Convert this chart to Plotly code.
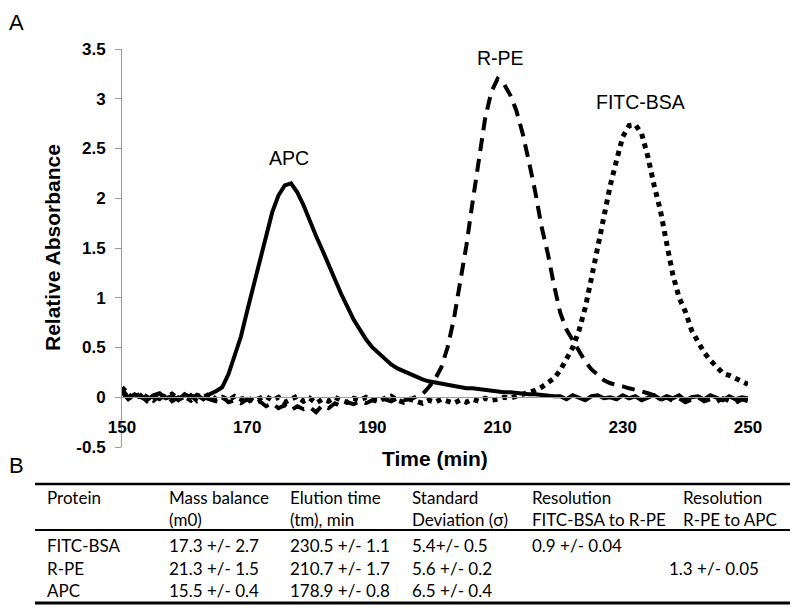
import plotly.graph_objects as go

# ---------------- data ----------------
time_min = list(range(150, 251))

apc = [0.05, -0.02, 0.03, 0.0, -0.03, 0.02, 0.04, -0.01, 0.01, -0.03, 0.03, 0.0, 0.02, -0.02, 0.03, 0.06,
       0.1, 0.23, 0.41, 0.61, 0.87, 1.12, 1.38, 1.64, 1.86, 2.03, 2.13, 2.15, 2.06, 1.93, 1.77, 1.62, 1.48,
       1.33, 1.18, 1.04, 0.91, 0.78, 0.68, 0.58, 0.5, 0.44, 0.38, 0.33, 0.29, 0.26, 0.23, 0.2, 0.18, 0.16,
       0.15, 0.13, 0.12, 0.11, 0.1, 0.09, 0.09, 0.08, 0.07, 0.07, 0.06, 0.05, 0.05, 0.04, 0.04, 0.03, 0.03,
       0.02, 0.02, 0.01,
       0.01, -0.02, 0.02, 0.0, -0.03, 0.01, 0.02, -0.01, 0.0, -0.02, 0.02, -0.01, 0.01, -0.03, 0.0, 0.02,
       -0.02, 0.01, -0.01, 0.02, -0.03, 0.0, 0.01, -0.02, 0.02, -0.01, -0.03, 0.01, -0.02, 0.0, -0.01]

rpe = [0.08, 0.0, -0.03, 0.02, -0.04, 0.01, -0.02, 0.03, -0.04, 0.0, -0.03, 0.02, -0.04, 0.0, -0.02, -0.04,
       0.01, -0.05, -0.03, -0.06, -0.02, -0.07, -0.04, -0.09, -0.06, -0.11, -0.08, -0.13, -0.09, -0.12, -0.1,
       -0.15, -0.08, -0.11, -0.06, -0.09, -0.05, -0.07, -0.04, -0.06, -0.03, -0.05, -0.02, -0.04, -0.01, -0.03,
       -0.02, 0.0, 0.03,
       0.1, 0.18, 0.3, 0.5, 0.78, 1.13, 1.52, 1.96, 2.4, 2.8, 3.07, 3.2, 3.15, 3.04, 2.88, 2.65, 2.37, 2.07,
       1.72, 1.45, 1.13, 0.85, 0.68, 0.57, 0.47, 0.36, 0.28, 0.22, 0.17, 0.14, 0.13, 0.11, 0.09, 0.08, 0.06,
       0.04, 0.02,
       -0.03, 0.0, -0.04, -0.01, -0.05, -0.02, 0.0, -0.04, -0.02, -0.05, -0.01, -0.04, -0.06, -0.02, -0.04]

fitc = [0.1, 0.03, -0.02, 0.04, 0.0, -0.03, 0.02, 0.0, 0.03, -0.02, 0.01, -0.03, 0.02, 0.0, 0.03, -0.02,
        0.0, -0.03, 0.01, -0.02, 0.0, -0.04, -0.01, 0.01, -0.03, 0.0, -0.05, -0.02, 0.01, -0.04, -0.01, -0.06,
        -0.02, -0.04, 0.0, -0.03, -0.05, -0.01, -0.03, 0.0, -0.02, -0.04, -0.01, 0.01, -0.03, -0.05, -0.02,
        -0.04, -0.06, -0.03, -0.05, -0.02, -0.04, -0.06, -0.03, -0.05, -0.02, -0.04, -0.01, -0.03, -0.02, 0.0,
        -0.01, 0.01, 0.02,
        0.05, 0.07, 0.1, 0.14, 0.19, 0.27, 0.38, 0.5, 0.67, 0.9, 1.2, 1.52, 1.86, 2.13, 2.38, 2.62, 2.73, 2.74,
        2.65, 2.42, 2.13, 1.88, 1.55, 1.23, 1.0, 0.86, 0.67, 0.55, 0.45, 0.37, 0.3, 0.24, 0.22, 0.19, 0.15, 0.13]

x_ticks = [150, 170, 190, 210, 230, 250]
y_ticks = [-0.5, 0, 0.5, 1, 1.5, 2, 2.5, 3, 3.5]
y_tick_labels = ["-0.5", "0", "0.5", "1", "1.5", "2", "2.5", "3", "3.5"]

# table (panel B)
header_line1 = ["Protein", "Mass balance", "Elution time", "Standard", "Resolution", "Resolution"]
header_line2 = ["", "(m0)", "(tm), min", "Deviation (σ)", "FITC-BSA to R-PE", "R-PE to APC"]
proteins = ["FITC-BSA", "R-PE", "APC"]
mass_balance = ["17.3 +/- 2.7", "21.3 +/- 1.5", "15.5 +/- 0.4"]
elution_time = ["230.5 +/- 1.1", "210.7 +/- 1.7", "178.9 +/- 0.8"]
std_dev = ["5.4+/- 0.5", "5.6 +/- 0.2", "6.5 +/- 0.4"]
res_fitc_rpe = ["0.9 +/- 0.04", "", ""]
res_rpe_apc = ["", "1.3 +/- 0.05", ""]

# ---------------- layout geometry (pixels) ----------------
W, H = 799, 613
L, R, T, B = 122, 51, 49, 166
PW, PH = W - L - R, H - T - B


def px(x):
    return (x - L) / PW


def py(y):
    return (H - B - y) / PH


ARIAL = "Liberation Sans, Arial, sans-serif"
CAL = "Lato, Carlito, Calibri, sans-serif"
GRAY = "#9a9a9a"

fig = go.Figure()
fig.add_trace(go.Scatter(x=time_min, y=apc, mode="lines", name="APC",
                         line=dict(color="black", width=4)))
fig.add_trace(go.Scatter(x=time_min, y=rpe, mode="lines", name="R-PE",
                         line=dict(color="black", width=4, dash="13px,8px")))
fig.add_trace(go.Scatter(x=time_min, y=fitc, mode="lines", name="FITC-BSA",
                         line=dict(color="black", width=5, dash="5px,5px")))

fig.update_layout(
    width=W, height=H,
    margin=dict(l=L, r=R, t=T, b=B, pad=0),
    paper_bgcolor="white", plot_bgcolor="white",
    showlegend=False,
    font=dict(family=ARIAL, color="black"),
    xaxis=dict(range=[150, 250], tickvals=x_ticks, ticktext=[str(v) for v in x_ticks],
               anchor="free", position=0.125, showline=True, linecolor=GRAY, linewidth=1,
               ticks="", showgrid=False, zeroline=False,
               tickfont=dict(family=ARIAL, size=17, color="black", weight="bold"),
               ticklabelstandoff=14),
    yaxis=dict(range=[-0.5, 3.5], tickvals=y_ticks, ticktext=y_tick_labels,
               showline=True, linecolor=GRAY, linewidth=1, ticks="outside", ticklen=6,
               tickcolor=GRAY, showgrid=False, zeroline=False,
               tickfont=dict(family=ARIAL, size=17, color="black", weight="bold"),
               ticklabelstandoff=6),
)

ann = []
# axis titles
ann.append(dict(text="Relative Absorbance", xref="paper", yref="paper", x=0, y=0.5,
                xshift=52 - L, textangle=-90, showarrow=False, xanchor="center", yanchor="middle",
                font=dict(family=ARIAL, size=21, color="black", weight="bold")))
ann.append(dict(text="Time (min)", xref="paper", yref="paper", x=0.5, y=py(458),
                showarrow=False, xanchor="center", yanchor="middle",
                font=dict(family=ARIAL, size=21, color="black", weight="bold")))
# panel letters
ann.append(dict(text="A", xref="paper", yref="paper", x=px(17), y=py(22), showarrow=False,
                xanchor="center", yanchor="middle", font=dict(family=ARIAL, size=22)))
ann.append(dict(text="B", xref="paper", yref="paper", x=px(17), y=py(465), showarrow=False,
                xanchor="center", yanchor="middle", font=dict(family=ARIAL, size=22)))
# curve labels
for txt, xv, yv in [("APC", 176.7, 2.40), ("R-PE", 210.4, 3.41), ("FITC-BSA", 232.9, 2.97)]:
    ann.append(dict(text=txt, x=xv, y=yv, xref="x", yref="y", showarrow=False,
                    xanchor="center", yanchor="middle", font=dict(family=ARIAL, size=19.5)))

# table
head_x = [45, 167, 288, 410, 530, 681]
val_x = [45, 167, 288, 410, 530, 667]
for i in range(6):
    ann.append(dict(text=header_line1[i], xref="paper", yref="paper", x=px(head_x[i]), y=py(497),
                    showarrow=False, xanchor="left", yanchor="middle", font=dict(family=CAL, size=17)))
    if header_line2[i]:
        ann.append(dict(text=header_line2[i], xref="paper", yref="paper", x=px(head_x[i]), y=py(519),
                        showarrow=False, xanchor="left", yanchor="middle", font=dict(family=CAL, size=17)))
columns = [proteins, mass_balance, elution_time, std_dev, res_fitc_rpe, res_rpe_apc]
row_y = [545, 568, 590]
for c, col in enumerate(columns):
    for r, val in enumerate(col):
        if val:
            ann.append(dict(text=val, xref="paper", yref="paper", x=px(val_x[c]), y=py(row_y[r]),
                            showarrow=False, xanchor="left", yanchor="middle",
                            font=dict(family=CAL, size=17)))
fig.update_layout(annotations=ann)

shapes = []
for yy, lw in [(484, 2.5), (530, 2), (603, 3)]:
    shapes.append(dict(type="line", xref="paper", yref="paper", x0=px(35), x1=px(790),
                       y0=py(yy), y1=py(yy), line=dict(color="black", width=lw)))
fig.update_layout(shapes=shapes)

fig.write_html("out.html", config={"displayModeBar": False},
               post_script="document.body.style.margin='0px';")
